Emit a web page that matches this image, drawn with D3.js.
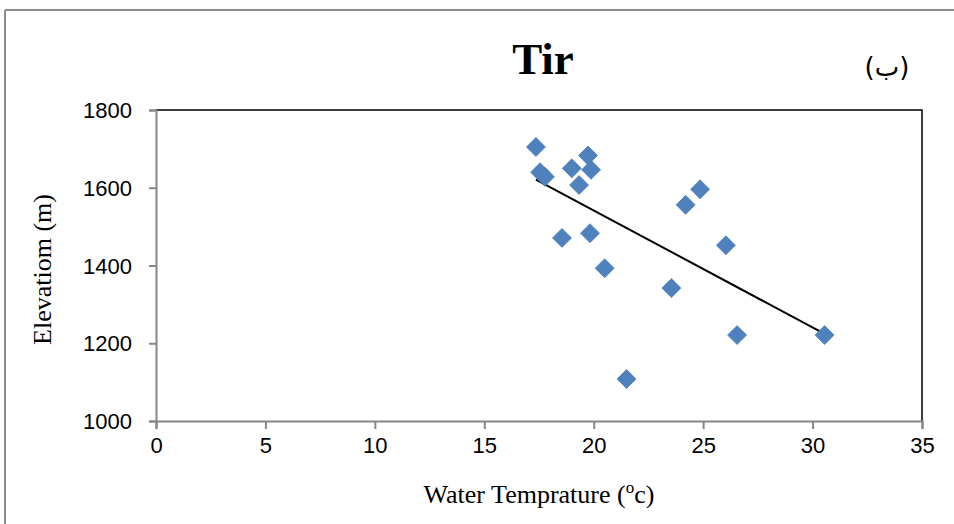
<!DOCTYPE html>
<html>
<head>
<meta charset="utf-8">
<script src="https://cdn.jsdelivr.net/npm/d3@7"></script>
<style>
  html, body { margin: 0; padding: 0; background: #fff; }
  svg { display: block; }
</style>
</head>
<body>
<svg id="chart" width="954" height="524"></svg>
<script>
const title = "Tir";
const cornerLabel = "(ب)";
const xTitle = "Water Temprature (";
const yTitle = "Elevatiom (m)";
const temperature = [17.36, 17.55, 17.77, 19.0, 19.74, 19.88, 19.33, 18.55, 19.83, 20.5, 21.5, 23.55, 24.2, 24.86, 26.04, 26.55, 30.55];
const elevation = [1705, 1640, 1628, 1650, 1683, 1646, 1607, 1471, 1483, 1393, 1108, 1342, 1556, 1596, 1452, 1221, 1221];
const xTicks = [0, 5, 10, 15, 20, 25, 30, 35];
const yTicks = [1000, 1200, 1400, 1600, 1800];

const svg = d3.select("#chart");
const W = 954, H = 524;
const m = { left: 156, right: 922, top: 110, bottom: 421 };

// outer frame
svg.append("line").attr("x1", 5).attr("x2", W).attr("y1", 10).attr("y2", 10)
  .attr("stroke", "#8c8c8c").attr("stroke-width", 2);
svg.append("line").attr("x1", 5).attr("x2", 5).attr("y1", 10).attr("y2", H)
  .attr("stroke", "#8c8c8c").attr("stroke-width", 2);

const x = d3.scaleLinear().domain([0, 35]).range([m.left, m.right]);
const y = d3.scaleLinear().domain([1000, 1800]).range([m.bottom, m.top]);

// top and right borders of plot area
svg.append("path")
  .attr("d", `M${m.left},${m.top}H${m.right}V${m.bottom}`)
  .attr("fill", "none").attr("stroke", "#000").attr("stroke-width", 1.5);

const xAxis = svg.append("g").attr("transform", `translate(0,${m.bottom})`)
  .call(d3.axisBottom(x).tickValues(xTicks).tickSize(8).tickPadding(8).tickFormat(d3.format("d")));
const yAxis = svg.append("g").attr("transform", `translate(${m.left},0)`)
  .call(d3.axisLeft(y).tickValues(yTicks).tickSize(7).tickPadding(17).tickFormat(d3.format("d")));
[xAxis, yAxis].forEach(g => {
  g.select(".domain").attr("stroke", "#868686").attr("stroke-width", 2);
  g.selectAll(".tick line").attr("stroke", "#868686").attr("stroke-width", 2);
  g.selectAll(".tick text").attr("fill", "#000")
    .style("font-family", "'Liberation Sans', Arial, sans-serif").style("font-size", "22px");
});
xAxis.selectAll(".tick text").attr("dy", "0.71em");
yAxis.selectAll(".tick text").attr("dy", "0.35em");

// trendline (least squares)
const n = temperature.length;
const mx = d3.mean(temperature), my = d3.mean(elevation);
let sxy = 0, sxx = 0;
for (let i = 0; i < n; i++) {
  sxy += (temperature[i] - mx) * (elevation[i] - my);
  sxx += (temperature[i] - mx) ** 2;
}
const slope = sxy / sxx, intercept = my - slope * mx;
const [xmin, xmax] = d3.extent(temperature);
svg.append("line")
  .attr("x1", x(xmin)).attr("y1", y(intercept + slope * xmin))
  .attr("x2", x(xmax)).attr("y2", y(intercept + slope * xmax))
  .attr("stroke", "#000").attr("stroke-width", 2);

// diamond markers
const r = 9.5;
svg.append("g").selectAll("path").data(temperature.map((t, i) => [t, elevation[i]]))
  .join("path")
  .attr("d", d => `M${x(d[0])},${y(d[1]) - r}L${x(d[0]) + r},${y(d[1])}L${x(d[0])},${y(d[1]) + r}L${x(d[0]) - r},${y(d[1])}Z`)
  .attr("fill", "#4F81BD").attr("stroke", "#4a7ebb").attr("stroke-width", 0.75);

// title
svg.append("text").attr("x", 543).attr("y", 74).attr("text-anchor", "middle")
  .style("font-family", "'Liberation Serif', 'Times New Roman', serif")
  .style("font-size", "45px").style("font-weight", "bold").text(title);

svg.append("text").attr("x", 887).attr("y", 76).attr("text-anchor", "middle")
  .style("font-family", "'DejaVu Sans', 'Liberation Serif', serif")
  .style("font-size", "26px").attr("direction", "ltr").style("unicode-bidi", "bidi-override")
  .text(cornerLabel);

// axis titles
const xt = svg.append("text").attr("x", (m.left + m.right) / 2).attr("y", 503).attr("text-anchor", "middle")
  .style("font-family", "'Liberation Serif', 'Times New Roman', serif").style("font-size", "26px");
xt.append("tspan").text(xTitle);
xt.append("tspan").attr("dy", -10).style("font-size", "17px").text("o");
xt.append("tspan").attr("dy", 10).text("c)");

svg.append("text")
  .attr("transform", `translate(51,${(m.top + m.bottom) / 2 + 4}) rotate(-90)`)
  .attr("text-anchor", "middle")
  .style("font-family", "'Liberation Serif', 'Times New Roman', serif").style("font-size", "26px")
  .text(yTitle);
</script>
</body>
</html>
